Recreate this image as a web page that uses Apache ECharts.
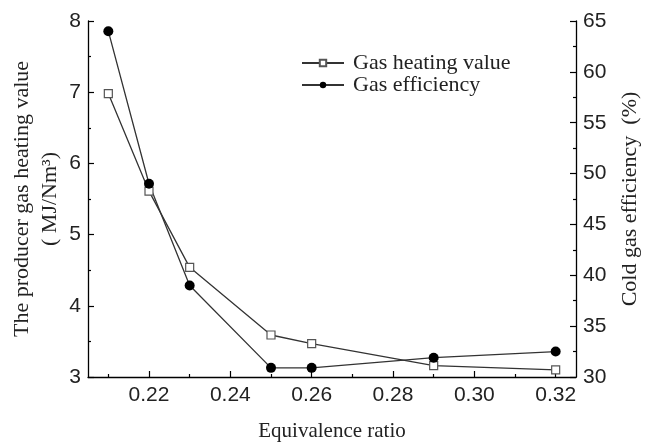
<!DOCTYPE html>
<html>
<head>
<meta charset="utf-8">
<script src="https://cdn.jsdelivr.net/npm/echarts@6/dist/echarts.min.js"></script>
<style>html,body{margin:0;padding:0;background:#fff}#c{width:645px;height:444px}</style>
</head>
<body>
<div id="c"></div>
<script>
const ratios = [0.21, 0.22, 0.23, 0.25, 0.26, 0.29, 0.32];
const heatingValue = [6.98, 5.61, 4.54, 3.59, 3.47, 3.16, 3.10];
const gasEfficiency = [64.0, 49.0, 39.0, 30.9, 30.9, 31.9, 32.5];
const xMajorTicks = [0.22, 0.24, 0.26, 0.28, 0.30, 0.32];
const xMinorTicks = [0.21, 0.23, 0.25, 0.27, 0.29, 0.31];

const chart = echarts.init(document.getElementById('c'), null, {renderer: 'canvas'});
const sans = 'Liberation Sans, Arial, sans-serif';
const serif = 'Liberation Serif, Times New Roman, serif';
const lineCol = '#333';

const pair = arr => ratios.map((r, i) => [r, arr[i]]);

chart.setOption({
  animation: false,
  backgroundColor: '#fff',
  grid: {left: 88, right: 69, top: 21, bottom: 67, containLabel: false, outerBoundsMode: 'none'},
  legend: {
    orient: 'vertical', left: 296, top: 47,
    itemWidth: 42, itemHeight: 8, itemGap: 0,
    textStyle: {fontFamily: serif, fontSize: 22, color: '#222', lineHeight: 21, padding: [0, 0, 0, 4]},
    data: ['Gas heating value', 'Gas efficiency']
  },
  xAxis: [{
    type: 'value', min: 0.205, max: 0.325,
    name: 'Equivalence ratio', nameLocation: 'middle', nameGap: 44,
    nameTextStyle: {fontFamily: serif, fontSize: 21, color: '#222'},
    axisLine: {show: true, onZero: false, lineStyle: {color: '#000', width: 1.3}},
    axisTick: {show: true, inside: true, length: 6, customValues: xMajorTicks, lineStyle: {color: '#000', width: 1.2}},
    axisLabel: {customValues: xMajorTicks, fontFamily: sans, fontSize: 21, color: '#222', margin: 8,
      formatter: v => v.toFixed(2)},
    splitLine: {show: false}
  }, {
    type: 'value', min: 0.205, max: 0.325, position: 'bottom',
    axisLine: {show: false},
    axisTick: {show: true, inside: true, length: 3, customValues: xMinorTicks, lineStyle: {color: '#000', width: 1.2}},
    axisLabel: {show: false},
    splitLine: {show: false}
  }],
  yAxis: [{
    type: 'value', min: 3, max: 8, interval: 1, position: 'left',
    name: 'The producer gas heating value\n( MJ/Nm\u00B3)', nameLocation: 'middle', nameRotate: 90, nameGap: 24,
    nameMoveOverlap: false,
    nameTextStyle: {fontFamily: serif, fontSize: 22, color: '#222', lineHeight: 28},
    axisLine: {show: true, onZero: false, lineStyle: {color: '#000', width: 1.3}},
    axisTick: {show: true, inside: true, length: 6, lineStyle: {color: '#000', width: 1.2}},
    minorTick: {show: true, splitNumber: 2, length: 3, lineStyle: {color: '#000', width: 1.2}},
    axisLabel: {fontFamily: sans, fontSize: 21, color: '#222', margin: 7},
    splitLine: {show: false}
  }, {
    type: 'value', min: 30, max: 65, interval: 5, position: 'right',
    name: 'Cold gas efficiency  (%)', nameLocation: 'middle', nameRotate: 90, nameGap: 43,
    nameTextStyle: {fontFamily: serif, fontSize: 22, color: '#222'},
    axisLine: {show: true, onZero: false, lineStyle: {color: '#000', width: 1.3}},
    axisTick: {show: true, inside: true, length: 6, lineStyle: {color: '#000', width: 1.2}},
    minorTick: {show: true, splitNumber: 2, length: 3, lineStyle: {color: '#000', width: 1.2}},
    axisLabel: {fontFamily: sans, fontSize: 21, color: '#222', margin: 7},
    splitLine: {show: false}
  }],
  series: [{
    name: 'Gas heating value', type: 'line', xAxisIndex: 0, yAxisIndex: 0,
    data: pair(heatingValue),
    symbol: 'rect', symbolSize: 8,
    lineStyle: {color: lineCol, width: 1.3},
    itemStyle: {color: '#fff', borderColor: '#555', borderWidth: 1.2}
  }, {
    name: 'Gas efficiency', type: 'line', xAxisIndex: 0, yAxisIndex: 1,
    data: pair(gasEfficiency),
    symbol: 'circle', symbolSize: 10,
    lineStyle: {color: lineCol, width: 1.3},
    itemStyle: {color: '#000', borderColor: '#000', borderWidth: 0}
  }]
});
</script>
</body>
</html>
